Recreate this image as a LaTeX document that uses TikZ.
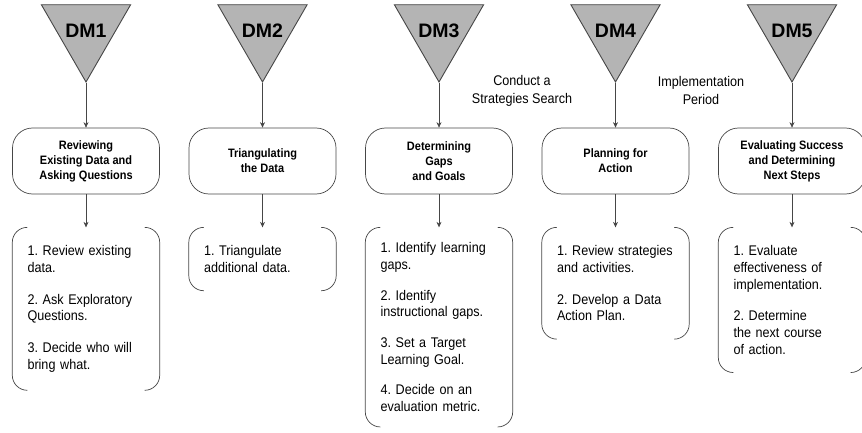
\documentclass[tikz,border=0pt]{standalone}
\usepackage{fontspec}
\setmainfont{Liberation Sans}
\newfontfamily\condfont[FakeStretch=0.9]{Liberation Sans}
\usetikzlibrary{shapes.geometric,positioning,calc,arrows.meta}
\definecolor{dmgray}{RGB}{180,180,180}
\definecolor{linegray}{RGB}{70,70,70}

\begin{document}
\frenchspacing
\hyphenpenalty=10000\relax
\begin{tikzpicture}[
						>={Stealth[length=5.5pt,width=5pt]},
						node distance=176.5pt,
						dm/.style = {draw=linegray, fill=dmgray, line width=0.9pt, regular polygon, regular polygon sides=3, shape border rotate=180, minimum size=103pt, inner sep=0pt, label={[font=\fontsize{19.5}{19.5}\selectfont\bfseries, inner sep=0pt]center:#1}},
						phase/.style = {draw=linegray, line width=0.7pt, rectangle, rounded corners=20pt, minimum width=147pt, minimum height=66pt, align=center, font=\condfont\fontsize{12.2}{15}\selectfont\bfseries},
						steps/.style = {text width=117pt, inner xsep=15pt, inner ysep=18pt, align=left, font=\condfont\fontsize{14}{16.7}\selectfont},
						bracket/.style = {draw=linegray, line width=0.7pt, rounded corners=15pt},
						note/.style = {align=center, font=\condfont\fontsize{14}{18}\selectfont}
					]
					\useasboundingbox (0,0) rectangle (862pt,-433pt);
					% data meetings
					\node[dm=DM1] (dm1) at (86pt,-30.5pt) {};
					\node[dm=DM2] (dm2) [right of=dm1] {};
					\node[dm=DM3] (dm3) [right of=dm2] {};
					\node[dm=DM4] (dm4) [right of=dm3] {};
					\node[dm=DM5] (dm5) [right of=dm4] {};
					% phases
					\node[phase] (s1) [below of=dm1, node distance=130.5pt] {Reviewing\\Existing Data and\\Asking Questions};
					\node[phase] (s2) [below of=dm2, node distance=130.5pt] {Triangulating\\the Data};
					\node[phase] (s3) [below of=dm3, node distance=130.5pt] {Determining\\Gaps\\and Goals};
					\node[phase] (s4) [below of=dm4, node distance=130.5pt] {Planning for\\Action};
					\node[phase] (s5) [below of=dm5, node distance=130.5pt] {Evaluating Success\\and Determining\\Next Steps};
					% steps
					\node[steps] (l1) [below=33pt of s1] {1. Review existing\\data.\\[15pt]2. Ask Exploratory\\Questions.\\[15pt]3. Decide who will\\bring what.};
					\node[steps] (l2) [below=33pt of s2] {1. Triangulate\\additional data.};
					\node[steps, inner ysep=15pt] (l3) [below=33pt of s3] {1. Identify learning\\gaps.\\[14pt]2. Identify\\instructional gaps.\\[14pt]3. Set a Target\\Learning Goal.\\[14pt]4. Decide on an\\evaluation metric.};
					\node[steps] (l4) [below=33pt of s4] {1. Review strategies\\and activities.\\[15pt]2. Develop a Data\\Action Plan.};
					\node[steps] (l5) [below=33pt of s5] {1. Evaluate\\effectiveness of\\implementation.\\[15pt]2. Determine\\the next course\\of action.};
					% between meetings
					\node[note] (search) at (522pt,-91pt) {Conduct a\\Strategies Search};
					\node[note] (impl) at (701pt,-90pt) {Implementation\\Period};
					\foreach \i in {1,...,5} {
						\draw[->,linegray,line width=0.7pt] (dm\i) to (s\i);
						\draw[->,linegray,line width=0.7pt] (s\i) to (l\i);
						\draw[bracket] ($(l\i.north west)+(15pt,0)$) -- (l\i.north west) -- (l\i.south west) -- ($(l\i.south west)+(15pt,0)$);
						\draw[bracket] ($(l\i.north east)+(-15pt,0)$) -- (l\i.north east) -- (l\i.south east) -- ($(l\i.south east)+(-15pt,0)$);
					}
				\end{tikzpicture}
\end{document}
